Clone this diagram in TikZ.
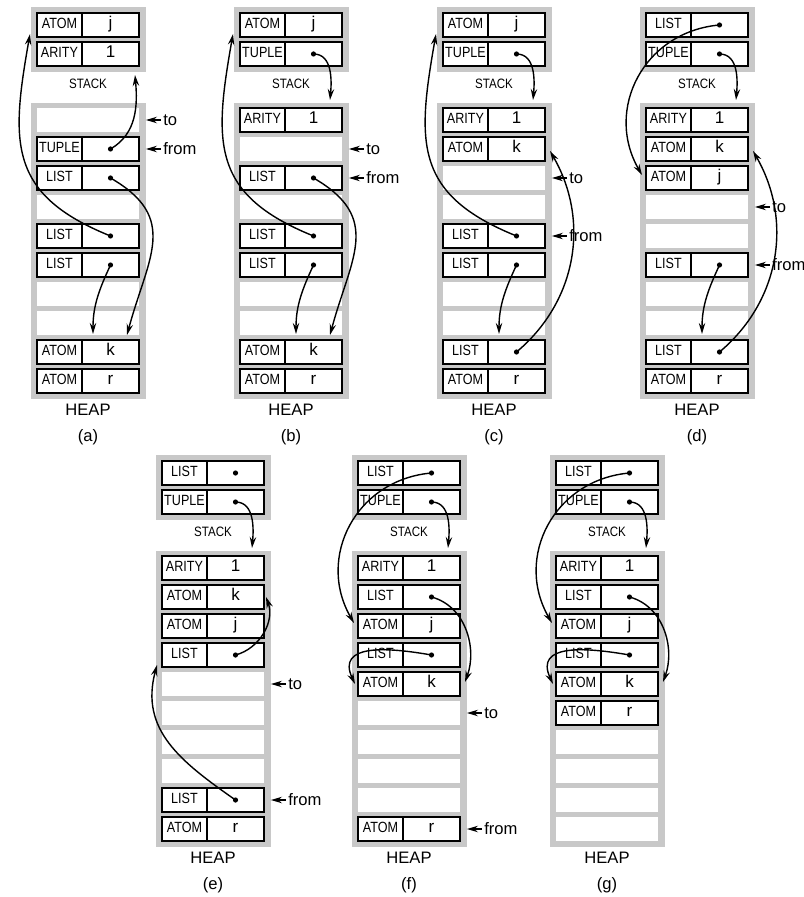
\documentclass[tikz,border=0pt]{standalone}
\usepackage{fontspec}
\setmainfont{Liberation Sans}
\newfontfamily\cellfont[FakeStretch=0.85]{Liberation Sans}
\usepackage{xcolor}
\usetikzlibrary{arrows.meta,positioning}
\definecolor{slotgray}{RGB}{200,200,200}

% one memory word: slot name, type tag, value
\newcommand\memcell[3]{%
  \node[tag, anchor=west] (#1t) at (#1.west) {#2};
  \node[val, right=0pt of #1t] (#1v) {#3};}
\newcommand\ptrcell[2]{\memcell{#1}{#2}{}\fill (#1v) circle[radius=1.3pt];}

\begin{document}
\begin{tikzpicture}[
    x=0.5pt, y=0.5pt,
    stackbox/.style={fill=slotgray, minimum width=57.5pt, minimum height=32.5pt, inner sep=0pt},
    heapbox/.style={fill=slotgray, minimum width=57.5pt, minimum height=148pt, inner sep=0pt},
    slot/.style={fill=white, minimum width=51pt, minimum height=12pt, inner sep=0pt, outer sep=0pt},
    tag/.style={draw, line width=0.8pt, fill=white, minimum width=22.5pt, minimum height=12pt, inner sep=0pt, outer sep=0pt, text height=5.3pt, text depth=1.4pt, font=\cellfont\fontsize{7.4}{8}\selectfont},
    val/.style={draw, line width=0.8pt, fill=white, minimum width=28.5pt, minimum height=12pt, inner sep=0pt, outer sep=0pt, text height=5.3pt, text depth=1.4pt, font=\fontsize{8.5}{9}\selectfont},
    stacklabel/.style={font=\cellfont\fontsize{6.8}{8}\selectfont},
    heaplabel/.style={font=\fontsize{8.3}{10}\selectfont},
    panelcap/.style={font=\fontsize{8.3}{10}\selectfont},
    regname/.style={inner sep=1pt, font=\fontsize{8.3}{10}\selectfont},
    ptr/.style={-{Stealth[length=5.5pt,width=3.2pt]}, line width=0.7pt}
]
\useasboundingbox (0,0) rectangle (803,-897);

% stack and heap frames
\foreach \p/\x/\y in {a/37/13, b/240/13, c/443/13, d/646/13, e/162/461, f/358/461, g/556/461} {
  \node[stackbox] (\p Stack) at (\x+51, -\y-26.5) {};
  \node[heapbox] (\p Heap) at (\x+51, -\y-238) {};
  \foreach \i in {1,2}
    \node[slot] (\p s\i) at (\x+51, {-\y-12-29*(\i-1)}) {};
  \foreach \i in {1,...,10}
    \node[slot] (\p h\i) at (\x+51, {-\y-107-29*(\i-1)}) {};
  \node[stacklabel] (\p StackLbl) at (\x+51, -\y-71) {STACK};
  \node[heaplabel] (\p HeapLbl) at (\x+51, -\y-397) {HEAP};
  \node[panelcap] (\p Cap) at (\x+51, -\y-424) {(\p)};
}

% (a)
\memcell{as1}{ATOM}{j}
\memcell{as2}{ARITY}{1}
\ptrcell{ah2}{TUPLE}
\ptrcell{ah3}{LIST}
\ptrcell{ah5}{LIST}
\ptrcell{ah6}{LIST}
\memcell{ah9}{ATOM}{k}
\memcell{ah10}{ATOM}{r}
% (b)
\memcell{bs1}{ATOM}{j}
\ptrcell{bs2}{TUPLE}
\memcell{bh1}{ARITY}{1}
\ptrcell{bh3}{LIST}
\ptrcell{bh5}{LIST}
\ptrcell{bh6}{LIST}
\memcell{bh9}{ATOM}{k}
\memcell{bh10}{ATOM}{r}
% (c)
\memcell{cs1}{ATOM}{j}
\ptrcell{cs2}{TUPLE}
\memcell{ch1}{ARITY}{1}
\memcell{ch2}{ATOM}{k}
\ptrcell{ch5}{LIST}
\ptrcell{ch6}{LIST}
\ptrcell{ch9}{LIST}
\memcell{ch10}{ATOM}{r}
% (d)
\ptrcell{ds1}{LIST}
\ptrcell{ds2}{TUPLE}
\memcell{dh1}{ARITY}{1}
\memcell{dh2}{ATOM}{k}
\memcell{dh3}{ATOM}{j}
\ptrcell{dh6}{LIST}
\ptrcell{dh9}{LIST}
\memcell{dh10}{ATOM}{r}
% (e)
\ptrcell{es1}{LIST}
\ptrcell{es2}{TUPLE}
\memcell{eh1}{ARITY}{1}
\memcell{eh2}{ATOM}{k}
\memcell{eh3}{ATOM}{j}
\ptrcell{eh4}{LIST}
\ptrcell{eh9}{LIST}
\memcell{eh10}{ATOM}{r}
% (f)
\ptrcell{fs1}{LIST}
\ptrcell{fs2}{TUPLE}
\memcell{fh1}{ARITY}{1}
\ptrcell{fh2}{LIST}
\memcell{fh3}{ATOM}{j}
\ptrcell{fh4}{LIST}
\memcell{fh5}{ATOM}{k}
\memcell{fh10}{ATOM}{r}
% (g)
\ptrcell{gs1}{LIST}
\ptrcell{gs2}{TUPLE}
\memcell{gh1}{ARITY}{1}
\ptrcell{gh2}{LIST}
\memcell{gh3}{ATOM}{j}
\ptrcell{gh4}{LIST}
\memcell{gh5}{ATOM}{k}
\memcell{gh6}{ATOM}{r}

% to / from registers
\foreach \p/\t/\f in {a/1/2, b/2/3, c/3/5, d/4/6, e/5/9, f/6/10} {
  \node[regname, anchor=west, xshift=7.5pt] (\p To) at (\p h\t -| \p Heap.east) {to};
  \node[regname, anchor=west, xshift=7.5pt] (\p From) at (\p h\f -| \p Heap.east) {from};
  \draw[ptr] (\p To.west) -- (\p To.west -| \p Heap.east);
  \draw[ptr] (\p From.west) -- (\p From.west -| \p Heap.east);
}

% pointers
\draw[ptr] (ah2v.center) to[out=30,in=-85] ([xshift=-2pt,yshift=-4.5pt]as2v.south east);
\foreach \p in {b,c,d,e,f,g}
  \draw[ptr] (\p s2v.center) to[out=0,in=85] ([xshift=-6pt,yshift=4pt]\p h1v.north east);
\foreach \p in {a,b}
  \draw[ptr] (\p h3v.center) to[out=-30,in=75,looseness=1.3] ([xshift=-6pt,yshift=2.5pt]\p h9v.north east);
\foreach \p in {a,b,c}
  \draw[ptr] (\p h5v.center) to[out=158,in=-100,looseness=1.3] ([xshift=-3.5pt,yshift=1.5pt]\p s1t.south west);
\foreach \p in {a,b,c,d}
  \draw[ptr] (\p h6v.center) to[out=-115,in=90] ([xshift=5.5pt,yshift=3pt]\p h9v.north west);
\foreach \p in {c,d}
  \draw[ptr] (\p h9v.center) to[out=40,in=-60] ([xshift=2.5pt,yshift=-1pt]\p h2v.east);
\foreach \p in {d,f,g}
  \draw[ptr] (\p s1v.center) to[out=185,in=120,looseness=1.15] ([xshift=-2pt,yshift=1.5pt]\p h3t.west);
\draw[ptr] (eh4v.center) to[out=15,in=-70] ([xshift=1pt]eh2v.east);
\draw[ptr] (eh9v.center) to[out=145,in=-105,looseness=1.1] ([xshift=-2.5pt,yshift=1pt]eh4t.south west);
\foreach \p in {f,g} {
  \draw[ptr] (\p h2v.center) to[out=-15,in=70] ([xshift=2.5pt,yshift=1pt]\p h5v.east);
  \draw[ptr] (\p h4v.center) to[out=170,in=115,looseness=1.4] ([xshift=-1.5pt]\p h5t.west);
}
\end{tikzpicture}
\end{document}
